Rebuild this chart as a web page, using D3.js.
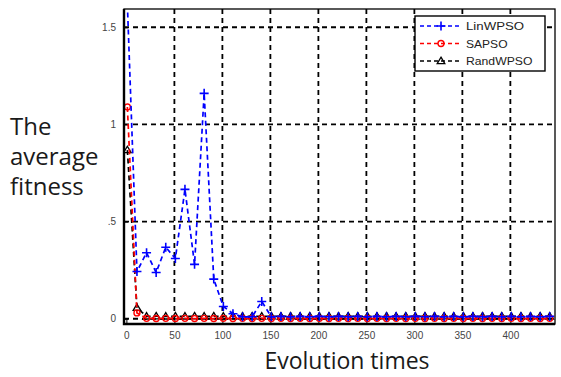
<!DOCTYPE html>
<html>
<head>
<meta charset="utf-8">
<script src="https://cdn.jsdelivr.net/npm/d3@7/dist/d3.min.js"></script>
<style>
  html, body { margin: 0; padding: 0; background: #fff; }
  svg { display: block; }
</style>
</head>
<body>
<svg id="chart" width="561" height="377"></svg>
<script>
// Evolution steps at which each curve is sampled
const iterations = [1, 11, 21, 31, 41, 51, 61, 71, 81, 91, 101, 111, 121, 131, 141, 151, 161, 171, 181, 191,
  201, 211, 221, 231, 241, 251, 261, 271, 281, 291, 301, 311, 321, 331, 341, 351, 361, 371, 381, 391,
  401, 411, 421, 431, 441];

const linWPSO = [1.62, 0.243, 0.34, 0.238, 0.368, 0.31, 0.666, 0.28, 1.16, 0.204, 0.063, 0.026, 0.01, 0.01, 0.089,
  0.01, 0.012, 0.01, 0.012, 0.01, 0.012, 0.01, 0.012, 0.01, 0.012, 0.01, 0.012, 0.01, 0.012, 0.01,
  0.012, 0.01, 0.012, 0.01, 0.012, 0.01, 0.012, 0.01, 0.012, 0.01, 0.012, 0.01, 0.012, 0.01, 0.012];

const sapso = [1.09, 0.03, 0.002, 0.001, 0.002, 0.001, 0.002, 0.001, 0.002, 0.001, 0.002, 0.001, 0.002, 0.001, 0.002,
  0.001, 0.002, 0.001, 0.002, 0.001, 0.002, 0.001, 0.002, 0.001, 0.002, 0.001, 0.002, 0.001, 0.002, 0.001,
  0.002, 0.001, 0.002, 0.001, 0.002, 0.001, 0.002, 0.001, 0.002, 0.001, 0.002, 0.001, 0.002, 0.001, 0.002];

const randWPSO = [0.868, 0.056, 0.012, 0.013, 0.012, 0.013, 0.012, 0.013, 0.012, 0.013, 0.012, 0.013, 0.012, 0.013, 0.012,
  0.013, 0.012, 0.013, 0.012, 0.013, 0.012, 0.013, 0.012, 0.013, 0.012, 0.013, 0.012, 0.013, 0.012, 0.013,
  0.012, 0.013, 0.012, 0.013, 0.012, 0.013, 0.012, 0.013, 0.012, 0.013, 0.012, 0.013, 0.012, 0.013, 0.012];

const seriesNames = ["LinWPSO", "SAPSO", "RandWPSO"];
const seriesColors = ["#0000ff", "#ff0000", "#000000"];
const seriesMarkers = ["plus", "circle", "triangle"];

const xTicks = [0, 50, 100, 150, 200, 250, 300, 350, 400];
const xTickLabels = ["0", "50", "100", "150", "200", "250", "300", "350", "400"];
const yTicks = [0, 0.5, 1, 1.5];
const yTickLabels = ["0", ".5", "1", "1.5"];

const yLabelLines = ["The", "average", "fitness"];
const xLabel = "Evolution times";

const svg = d3.select("#chart");
const plot = { left: 124, right: 555, top: 9, bottom: 324 };

const x = d3.scaleLinear().domain([-2.5, 446.5]).range([plot.left, plot.right]);
const y = d3.scaleLinear().domain([-0.027, 1.594]).range([plot.bottom, plot.top]);

// clip region for the plot area
svg.append("defs").append("clipPath").attr("id", "clip")
  .append("rect")
  .attr("x", plot.left).attr("y", plot.top)
  .attr("width", plot.right - plot.left).attr("height", plot.bottom - plot.top);

// dashed grid
const grid = svg.append("g").attr("stroke", "#000").attr("stroke-width", 1.8)
  .attr("stroke-dasharray", "5,4");
grid.selectAll(".vg").data(xTicks.filter(d => d > 0)).join("line")
  .attr("x1", d => x(d)).attr("x2", d => x(d))
  .attr("y1", plot.top).attr("y2", plot.bottom);
grid.selectAll(".hg").data(yTicks).join("line")
  .attr("y1", d => y(d)).attr("y2", d => y(d))
  .attr("x1", plot.left).attr("x2", plot.right);

// axes
const xAxis = d3.axisBottom(x).tickValues(xTicks)
  .tickFormat((d, i) => xTickLabels[i]).tickSize(-4).tickPadding(8);
const yAxis = d3.axisLeft(y).tickValues(yTicks)
  .tickFormat((d, i) => yTickLabels[i]).tickSize(-4).tickPadding(8);

const gx = svg.append("g").attr("transform", `translate(0,${plot.bottom})`).call(xAxis);
const gy = svg.append("g").attr("transform", `translate(${plot.left},0)`).call(yAxis);
[gx, gy].forEach(g => {
  g.select(".domain").remove();
  g.selectAll(".tick line").attr("stroke", "#000");
  g.selectAll(".tick text").attr("fill", "#444")
    .style("font-family", "Arial, 'Liberation Sans', sans-serif").style("font-size", "10px");
});

// data lines and markers
const lineGen = d3.line().x(d => x(d[0])).y(d => y(d[1]));
const allSeries = [linWPSO, sapso, randWPSO];
const dataLayer = svg.append("g").attr("clip-path", "url(#clip)");

function drawMarker(g, type, color, cx, cy) {
  if (type === "plus") {
    g.append("path").attr("d", `M${cx - 4.5},${cy}H${cx + 4.5}M${cx},${cy - 4.5}V${cy + 4.5}`)
      .attr("stroke", color).attr("stroke-width", 1.6).attr("fill", "none");
  } else if (type === "circle") {
    g.append("circle").attr("cx", cx).attr("cy", cy).attr("r", 3)
      .attr("stroke", color).attr("stroke-width", 1.4).attr("fill", "none");
  } else {
    g.append("path").attr("d", `M${cx},${cy - 3.8}L${cx + 3.8},${cy + 2.6}L${cx - 3.8},${cy + 2.6}Z`)
      .attr("stroke", color).attr("stroke-width", 1.3).attr("fill", "none");
  }
}

// draw back-to-front so the blue series ends up on top of the others
[2, 1, 0].forEach(si => {
  const pts = iterations.map((t, i) => [t, allSeries[si][i]]);
  dataLayer.append("path").datum(pts)
    .attr("d", lineGen)
    .attr("fill", "none").attr("stroke", seriesColors[si])
    .attr("stroke-width", 1.7).attr("stroke-dasharray", "5,3.5");
  const mg = dataLayer.append("g");
  pts.forEach(p => drawMarker(mg, seriesMarkers[si], seriesColors[si], x(p[0]), y(p[1])));
});

// frame: thick left/bottom, thin top/right
svg.append("rect")
  .attr("x", plot.left).attr("y", plot.top)
  .attr("width", plot.right - plot.left).attr("height", plot.bottom - plot.top)
  .attr("fill", "none").attr("stroke", "#000").attr("stroke-width", 1.3);
svg.append("path")
  .attr("d", `M${plot.left},${plot.top}V${plot.bottom}H${plot.right}`)
  .attr("fill", "none").attr("stroke", "#000").attr("stroke-width", 2.4);

// legend
const lg = svg.append("g");
lg.append("rect").attr("x", 415).attr("y", 16).attr("width", 130).attr("height", 55)
  .attr("fill", "#fff").attr("stroke", "#000").attr("stroke-width", 1.4);
seriesNames.forEach((name, i) => {
  const ly = 26 + i * 17.5;
  lg.append("line").attr("x1", 420).attr("x2", 462).attr("y1", ly).attr("y2", ly)
    .attr("stroke", seriesColors[i]).attr("stroke-width", 1.4).attr("stroke-dasharray", "4,3");
  drawMarker(lg, seriesMarkers[i], seriesColors[i], 441, ly);
  lg.append("text").attr("x", 466).attr("y", ly + 4).text(name)
    .attr("fill", "#222").style("font-family", "Arial, 'Liberation Sans', sans-serif")
    .style("font-size", "11px").attr("textLength", name.length * 8.3).attr("lengthAdjust", "spacingAndGlyphs");
});

// axis titles
const yl = svg.append("text").attr("fill", "#1a1a1a")
  .style("font-family", "'Open Sans', sans-serif").style("font-size", "24px");
yLabelLines.forEach((s, i) => {
  yl.append("tspan").attr("x", 10).attr("y", 135 + i * 30).text(s);
});
svg.append("text").attr("x", 347).attr("y", 369).attr("text-anchor", "middle")
  .attr("fill", "#1a1a1a").style("font-family", "'Open Sans', sans-serif").style("font-size", "23px")
  .text(xLabel);
</script>
</body>
</html>
